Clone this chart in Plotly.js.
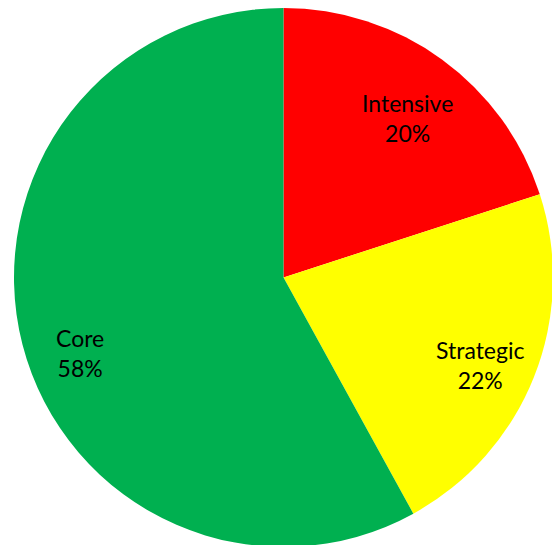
<!DOCTYPE html>
<html>
<head>
<meta charset="utf-8">
<script src="https://cdn.plot.ly/plotly-3.0.1.min.js"></script>
<style>
html,body{margin:0;padding:0;overflow:hidden;background:#fff;}
#chart{width:560px;height:560px;}
</style>
</head>
<body>
<div id="chart"></div>
<script>
var categories = ["Intensive", "Strategic", "Core"];
var values = [20, 22, 58];
var colors = ["#FF0000", "#FFFF00", "#00B050"];

var W = 560, H = 560;
var cx = 283.5, cy = 277.5, R = 269.5;

// label anchor positions (px in the page)
var labelPos = [[407, 117.5], [480, 364.5], [80, 353]];

var annotations = categories.map(function(c, i) {
  return {
    xref: "paper", yref: "paper",
    x: labelPos[i][0] / W, y: 1 - labelPos[i][1] / H,
    xanchor: "center", yanchor: "middle",
    text: c + "<br>" + values[i] + "%",
    showarrow: false,
    font: {family: "Lato, 'Gill Sans', sans-serif", size: 23, color: "#000"}
  };
});

var trace = {
  type: "pie",
  labels: categories,
  values: values,
  marker: {colors: colors, line: {width: 0}},
  sort: false,
  direction: "clockwise",
  rotation: 0,
  textinfo: "none",
  hoverinfo: "label+percent",
  domain: {x: [(cx - R) / W, (cx + R) / W], y: [1 - (cy + R) / H, 1 - (cy - R) / H]}
};

var layout = {
  width: W, height: H,
  margin: {l: 0, r: 0, t: 0, b: 0},
  showlegend: false,
  paper_bgcolor: "#fff",
  annotations: annotations
};

Plotly.newPlot("chart", [trace], layout, {displayModeBar: false, staticPlot: true});
</script>
</body>
</html>
